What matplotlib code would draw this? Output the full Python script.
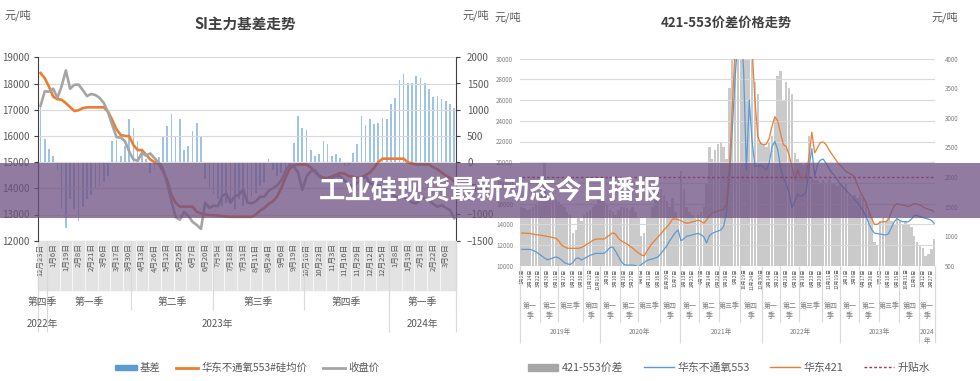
import numpy as np
import matplotlib
matplotlib.use("Agg")
import matplotlib.pyplot as plt
from matplotlib.patches import Rectangle, Patch
from matplotlib.lines import Line2D

plt.rcParams['font.family'] = ['Noto Sans CJK SC', 'DejaVu Sans']

W, H = 980, 381

# ---------------- left chart: SI主力基差走势 ----------------
si_dates = ["12月23日", "1月6日", "1月19日", "2月8日", "2月21日", "3月6日", "3月17日",
            "3月30日", "4月13日", "4月26日", "5月12日", "5月25日", "6月7日", "6月20日",
            "7月5日", "7月18日", "7月31日", "8月11日", "8月24日", "9月6日", "9月19日",
            "10月10日", "10月23日", "11月3日", "11月16日", "11月29日", "12月12日",
            "12月25日", "1月8日", "1月19日", "2月1日", "2月22日", "3月6日"]
si_quarters = ["第四季", "第一季", "第二季", "第三季", "第四季", "第一季"]
si_quarter_edges = [-0.6, 1.5, 21.5, 40.8, 62.3, 82.5, 98.4]
si_years = ["2022年", "2023年", "2024年"]
si_year_edges = [-0.6, 1.5, 82.5, 98.4]

spot_553 = [18400, 18200, 17880, 17500, 17400, 17380, 17250, 17100, 16950, 16980,
            17060, 17090, 17090, 17090, 17090, 17090, 16920, 16600, 16250, 16030,
            16000, 15990, 15650, 15460, 15460, 15280, 15100, 15000, 14950, 14650,
            14300, 13750, 13450, 13300, 13300, 13300, 13300, 13100, 13040, 13000,
            12980, 12970, 12960, 12940, 12920, 12910, 12910, 12910, 12910, 12910,
            12910, 13000, 13150, 13250, 13400, 13500, 13680, 14000, 14400, 14750,
            14880, 14910, 14910, 14910, 14800, 14620, 14480, 14400, 14400, 14450,
            14520, 14580, 14560, 14470, 14440, 14400, 14430, 14500, 14600, 14780,
            15000, 15130, 15130, 15130, 15130, 15130, 15130, 14990, 14950, 14910,
            14910, 14910, 14910, 14800, 14720, 14600, 14480, 14400, 14250]
close_price = [17150, 17700, 17690, 17800, 17450, 17900, 18500, 17800, 17950, 17960,
               17750, 17520, 17600, 17560, 17450, 17250, 16900, 16410, 15950, 15940,
               15800, 15400, 15100, 15050, 15350, 15250, 15330, 15150, 14980, 14750,
               14200, 13500, 12900, 12800, 13100, 12950, 12720, 12600, 12450, 13450,
               13250, 13340, 13320, 13700, 13800, 13450, 13700, 13750, 13950, 13450,
               13430, 13500, 13680, 13680, 13900, 14000, 14100, 14300, 14650, 14900,
               14840, 14600, 13940, 14450, 14650, 14700, 14460, 14330, 14330, 14400,
               14460, 14460, 14300, 14140, 14070, 14200, 14350, 14460, 14200, 14150,
               14100, 14070, 13900, 13800, 13680, 13680, 13680, 13550, 13460, 13420,
               13600, 13620, 13550, 13400, 13300, 13360, 13250, 13170, 12850]
basis = [1070, 450, 250, 115, -150, -900, -1250, -700, -900, -1130,
         -850, -700, -620, -520, -450, -380, -270, 400, 430, 115,
         300, 815, 650, 400, 240, 50, -200, -140, 100, 500,
         690, 910, 500, 820, 240, 300, 600, 750, 500, -330,
         -520, -600, -700, -840, -780, -800, -900, -700, -840, -780,
         -650, -590, -450, -400, 50, -150, -270, -200, -150, -100,
         370, 880, 650, 620, 240, 115, 150, 400, 340, 115,
         150, 80, -75, -50, 180, 340, 880, 700, 815, 720,
         750, 850, 815, 1100, 1225, 1560, 1675, 1515, 1515, 1650,
         1610, 1515, 1400, 1250, 1260, 1200, 1165, 1100, 1035]

# ---------------- right chart: 421-553价差价格走势 ----------------
spread_dates = ["1月2日", "2月14日", "3月22日", "4月30日", "6月11日", "7月17日", "8月22日",
                "9月30日", "11月12日", "12月18日",
                "2月3日", "3月10日", "4月16日", "5月27日", "7月6日", "8月11日", "9月16日",
                "10月30日", "12月7日",
                "1月13日", "2月25日", "4月7日", "5月14日", "6月22日", "7月28日", "9月2日",
                "10月19日", "11月24日", "12月30日",
                "2月14日", "3月22日", "4月28日", "6月10日", "7月18日", "8月23日", "9月29日",
                "11月11日", "12月19日",
                "2月1日", "3月9日", "4月17日", "5月26日", "7月3日", "8月10日", "9月15日",
                "10月31日", "12月6日",
                "1月12日", "2月27日"]
spread_quarters = ["第一\n季", "第二\n季", "第三季", "第四\n季"] * 5 + ["第一\n季"]
spread_quarter_edges = [-0.6, 6.5, 12.9, 21.5, 27.5, 34.5, 41, 48.6, 55.6, 62.4, 69.4,
                        76.7, 84.5, 90.7, 97.5, 105.5, 111.8, 118.5, 125.5, 132.8,
                        139.8, 145.3]
spread_years = ["2019年", "2020年", "2021年", "2022年", "2023年", "2024\n年"]
spread_year_edges = [-0.6, 27.5, 55.6, 84.5, 111.8, 139.8, 145.3]

price_421 = [13150, 13150, 13130, 13100, 13050, 13000, 12970, 12930, 12880, 12830,
             12780, 12720, 12650, 12400, 12000, 11840, 11700, 11680, 11680, 11680,
             11680, 11760, 11900, 12100, 12230, 12450, 12560, 12580, 12580, 12580,
             12800, 12970, 13190, 13050, 12650, 12400, 12250, 12100, 11900, 11700,
             11450, 11250, 11050, 10950, 11400, 11840, 12200, 12500, 12800, 13100,
             13450, 13750, 14050, 14500, 14520, 14450, 14350, 14200, 14100, 14150,
             14250, 14300, 14400, 14300, 14100, 14400, 14850, 15100, 15200, 15280,
             15350, 15450, 16000, 19500, 25000, 31000, 34000, 34000, 34000, 34000,
             34000, 31000, 26000, 22500, 21800, 21700, 21750, 22300, 23500, 24400,
             24000, 22800, 21700, 21500, 20700, 19600, 18300, 19300, 18500, 18500,
             18600, 20500, 22900, 20900, 21400, 21900, 21950, 21700, 21200, 20800,
             20400, 20000, 19700, 19400, 19100, 18950, 18800, 18600, 17800, 17200,
             16670, 16100, 15400, 14600, 14000, 14000, 14200, 14250, 14250, 14500,
             15200, 15800, 16000, 15900, 15870, 15800, 15700, 15850, 16000, 15950,
             15870, 15700, 15550, 15450, 15380, 15220]
price_553 = [11580, 11580, 11580, 11570, 11480, 11350, 11150, 10950, 10750, 10580,
             10650, 10750, 10850, 10750, 10550, 10300, 10200, 10100, 10300, 10700,
             10750, 10550, 10700, 10850, 11000, 11100, 11190, 11190, 11190, 11190,
             11450, 11750, 11800, 11400, 10900, 10400, 10100, 10060, 10060, 10060,
             10000, 9900, 10100, 10300, 10500, 10600, 10650, 10750, 10870, 11200,
             11550, 11900, 12400, 12800, 13200, 13450, 12400, 12600, 12850, 12900,
             12970, 13050, 13130, 13000, 12800, 12200, 12900, 13130, 13250, 13350,
             13450, 13800, 15200, 18500, 23000, 28000, 32000, 33000, 29000, 19250,
             26000, 22000, 19600, 19600, 19700, 19500, 19250, 19900, 21500, 22000,
             21200, 19500, 18500, 17900, 17000, 15600, 16200, 16900, 16700, 16800,
             17100, 19500, 21300, 18600, 19800, 20200, 20300, 19900, 19400, 19000,
             18700, 18300, 17900, 17600, 17300, 17000, 16700, 16400, 16100, 15750,
             15300, 14800, 14100, 13500, 13150, 13100, 13050, 13000, 12970, 13100,
             13700, 14250, 14550, 14350, 14250, 14250, 14250, 14500, 14850, 14850,
             14750, 14650, 14580, 14500, 14400, 14090]
spread_421_553 = [1500, 1480, 1450, 1460, 1500, 1550, 1600, 1700, 2250, 1700,
                  1650, 1600, 1620, 1580, 1550, 1500, 1400, 1350, 1050, 1100,
                  1300, 1250, 1350, 1400, 1450, 1500, 1550, 1650, 1680, 1600,
                  1550, 1450, 1400, 1350, 1450, 1500, 1500, 1480, 1450, 1500,
                  1400, 1300, 1000, 1050, 1300, 1300, 1500, 1700, 1750, 1800,
                  1700, 1600, 1500, 1650, 1400, 1300, 2100, 1800, 1500, 1400,
                  1350, 1300, 1350, 1400, 1500, 1900, 2500, 2300, 2450, 2550,
                  2600, 2500, 2300, 3500, 4200, 4500, 4500, 4500, 4500, 4500,
                  4500, 4200, 3600, 3400, 2600, 2550, 2500, 2600, 2700, 3000,
                  3700, 3800, 3300, 3600, 3500, 3400, 2400, 2300, 2250, 2200,
                  2250, 2700, 2000, 1950, 1950, 1900, 1950, 1900, 1950, 1900,
                  1900, 1850, 1900, 1850, 1900, 1700, 1650, 1700, 1650, 1700,
                  1650, 1600, 1400, 1330, 900, 850, 1250, 1300, 1250, 1300,
                  1250, 1200, 1300, 1250, 1200, 1250, 1200, 1150, 1000, 900,
                  850, 800, 660, 700, 780, 950]
premium_level = 2000

TXT = '#595959'
GRID = '#D9D9D9'


def box(x0, y0, x1, y1):
    return [x0 / W, 1 - y1 / H, (x1 - x0) / W, (y1 - y0) / H]


def ftext(x, y, s, **kw):
    fig.text(x / W, 1 - y / H, s, **kw)


def category_rows(ax, edges, labels, y_text, y_line, size, color, va='center'):
    tr = ax.get_xaxis_transform()
    ax.vlines(edges, y_line, 0, transform=tr, colors=GRID, lw=0.8, clip_on=False)
    for i, lab in enumerate(labels):
        ax.text((edges[i] + edges[i + 1]) / 2, y_text, lab, transform=tr, ha='center',
                va=va, fontsize=size, color=color, linespacing=1.25)


fig = plt.figure(figsize=(W / 100, H / 100), dpi=100)

# ---- left chart ----
ax1 = fig.add_axes(box(38, 57.3, 456, 240.7))
ax2 = ax1.twinx()
x1 = np.arange(len(spot_553))
ax2.bar(x1, basis, width=0.4, color='#9DC3E6')
ax1.plot(x1, spot_553, color='#ED7D31', lw=1.9)
ax1.plot(x1, close_price, color='#A5A5A5', lw=1.9)
ax1.set_zorder(ax2.get_zorder() + 1)
ax1.patch.set_visible(False)

ax1.set_xlim(-0.6, 98.4)
ax1.set_ylim(12000, 19000)
ax1.set_yticks(range(12000, 19001, 1000))
ax2.set_ylim(-1500, 2000)
ax2.set_yticks(range(-1500, 2001, 500))
ax1.grid(axis='y', color=GRID, lw=0.8)
ax1.set_axisbelow(True)
for a in (ax1, ax2):
    a.spines['top'].set_visible(False)
    a.spines['bottom'].set_visible(False)
ax1.spines['right'].set_visible(False)
ax2.spines['left'].set_visible(False)
ax1.spines['left'].set_color('#404040')
ax2.spines['right'].set_color('#404040')
ax1.tick_params(axis='y', labelsize=7, colors=TXT, length=3, pad=3)
ax2.tick_params(axis='y', labelsize=7, colors=TXT, length=3, pad=5)
ax1.tick_params(axis='y', color='#404040')
ax2.tick_params(axis='y', color='#404040')

ax1.set_xticks(np.arange(0, 3 * len(si_dates), 3))
ax1.set_xticklabels(si_dates, rotation=90, fontsize=5.5, color=TXT)
ax1.tick_params(axis='x', length=0, pad=2)
ax1.add_patch(Rectangle((-0.6, -0.267), 99, 0.267, transform=ax1.get_xaxis_transform(),
                        clip_on=False, color='#E3E3E3', zorder=0))
ax1.vlines(np.arange(1.5, 97, 3), -0.267, 0, transform=ax1.get_xaxis_transform(),
           colors='white', lw=0.5, clip_on=False, zorder=0.5)
category_rows(ax1, si_quarter_edges, si_quarters, -0.334, -0.376, 7, TXT)
category_rows(ax1, si_year_edges, si_years, -0.454, -0.5, 7, TXT)

ftext(4, 15, "元/吨", fontsize=8, color=TXT, va='center')
ftext(462, 15, "元/吨", fontsize=8, color=TXT, va='center')
ftext(245, 24, "SI主力基差走势", fontsize=10.5, weight='bold', color='#404040',
      ha='center', va='center')

fig.legend(handles=[Patch(color='#5B9BD5'), Line2D([], [], color='#ED7D31', lw=2),
                    Line2D([], [], color='#A5A5A5', lw=2)],
           labels=["基差", "华东不通氧553#硅均价", "收盘价"], loc='center',
           bbox_to_anchor=(247 / W, 1 - 368 / H), ncol=3, frameon=False, fontsize=7.5,
           handlelength=2.1, handleheight=0.5, handletextpad=0.3, columnspacing=1.5,
           labelcolor=TXT)

# ---- right chart ----
ax3 = fig.add_axes(box(520, 58.7, 935, 265.7))
ax4 = ax3.twinx()
x2 = np.arange(len(price_421))
ax4.bar(x2, spread_421_553, width=0.85, color='#CACACA')
ax4.plot(x2, [premium_level] * len(x2), color='#B0393B', lw=1, ls=(0, (2, 1.5)))
ax3.plot(x2, price_553, color='#5B9BD5', lw=0.9)
ax3.plot(x2, price_421, color='#ED7D31', lw=0.9)
ax3.set_zorder(ax4.get_zorder() + 1)
ax3.patch.set_visible(False)

ax3.set_xlim(-0.6, 145.3)
ax3.set_ylim(10000, 30000)
ax3.set_yticks(range(10000, 30001, 2000))
ax4.set_ylim(500, 4000)
ax4.set_yticks(range(500, 4001, 500))
ax3.grid(axis='y', color=GRID, lw=0.8)
for a in (ax3, ax4):
    for s in a.spines.values():
        s.set_visible(False)
ax3.tick_params(axis='y', labelsize=4.5, colors='#7F7F7F', length=0, pad=5)
ax4.tick_params(axis='y', labelsize=4.5, colors='#7F7F7F', length=0, pad=7)
ax3.set_xticks(np.arange(0, 3 * len(spread_dates), 3))
ax3.set_xticklabels(spread_dates, rotation=90, fontsize=3.6, color=TXT)
ax3.tick_params(axis='x', length=0, pad=2)
category_rows(ax3, spread_quarter_edges, spread_quarters, -0.176, -0.272, 5, '#7F7F7F',
              va='top')
category_rows(ax3, spread_year_edges, spread_years, -0.3, -0.373, 4.8, '#7F7F7F',
              va='top')

ftext(494, 17, "元/吨", fontsize=8, color=TXT, va='center')
ftext(931, 17, "元/吨", fontsize=8, color=TXT, va='center')
ftext(726, 23, "421-553价差价格走势", fontsize=9.5, weight='bold', color='#404040',
      ha='center', va='center')

fig.legend(handles=[Patch(color='#A6A6A6'), Line2D([], [], color='#5B9BD5', lw=1),
                    Line2D([], [], color='#ED7D31', lw=1),
                    Line2D([], [], color='#B0393B', lw=1, ls=(0, (2, 1.5)))],
           labels=["421-553价差", "华东不通氧553", "华东421", "升贴水"], loc='center',
           bbox_to_anchor=(729 / W, 1 - 368 / H), ncol=4, frameon=False, fontsize=7.8,
           handlelength=2.8, handletextpad=0.3, columnspacing=1.9, labelcolor=TXT)

# ---- banner overlay ----
fig.add_artist(Rectangle((0, 1 - 218 / H), 1, 55 / H, transform=fig.transFigure,
                         facecolor='#6E4F82', edgecolor='none', alpha=0.75, zorder=20))
fig.text(0.5, 1 - 190.5 / H, "工业硅现货最新动态今日播报", fontsize=19, weight='bold',
         color='white', ha='center', va='center', zorder=21)

fig.savefig("out.png", dpi=100)
